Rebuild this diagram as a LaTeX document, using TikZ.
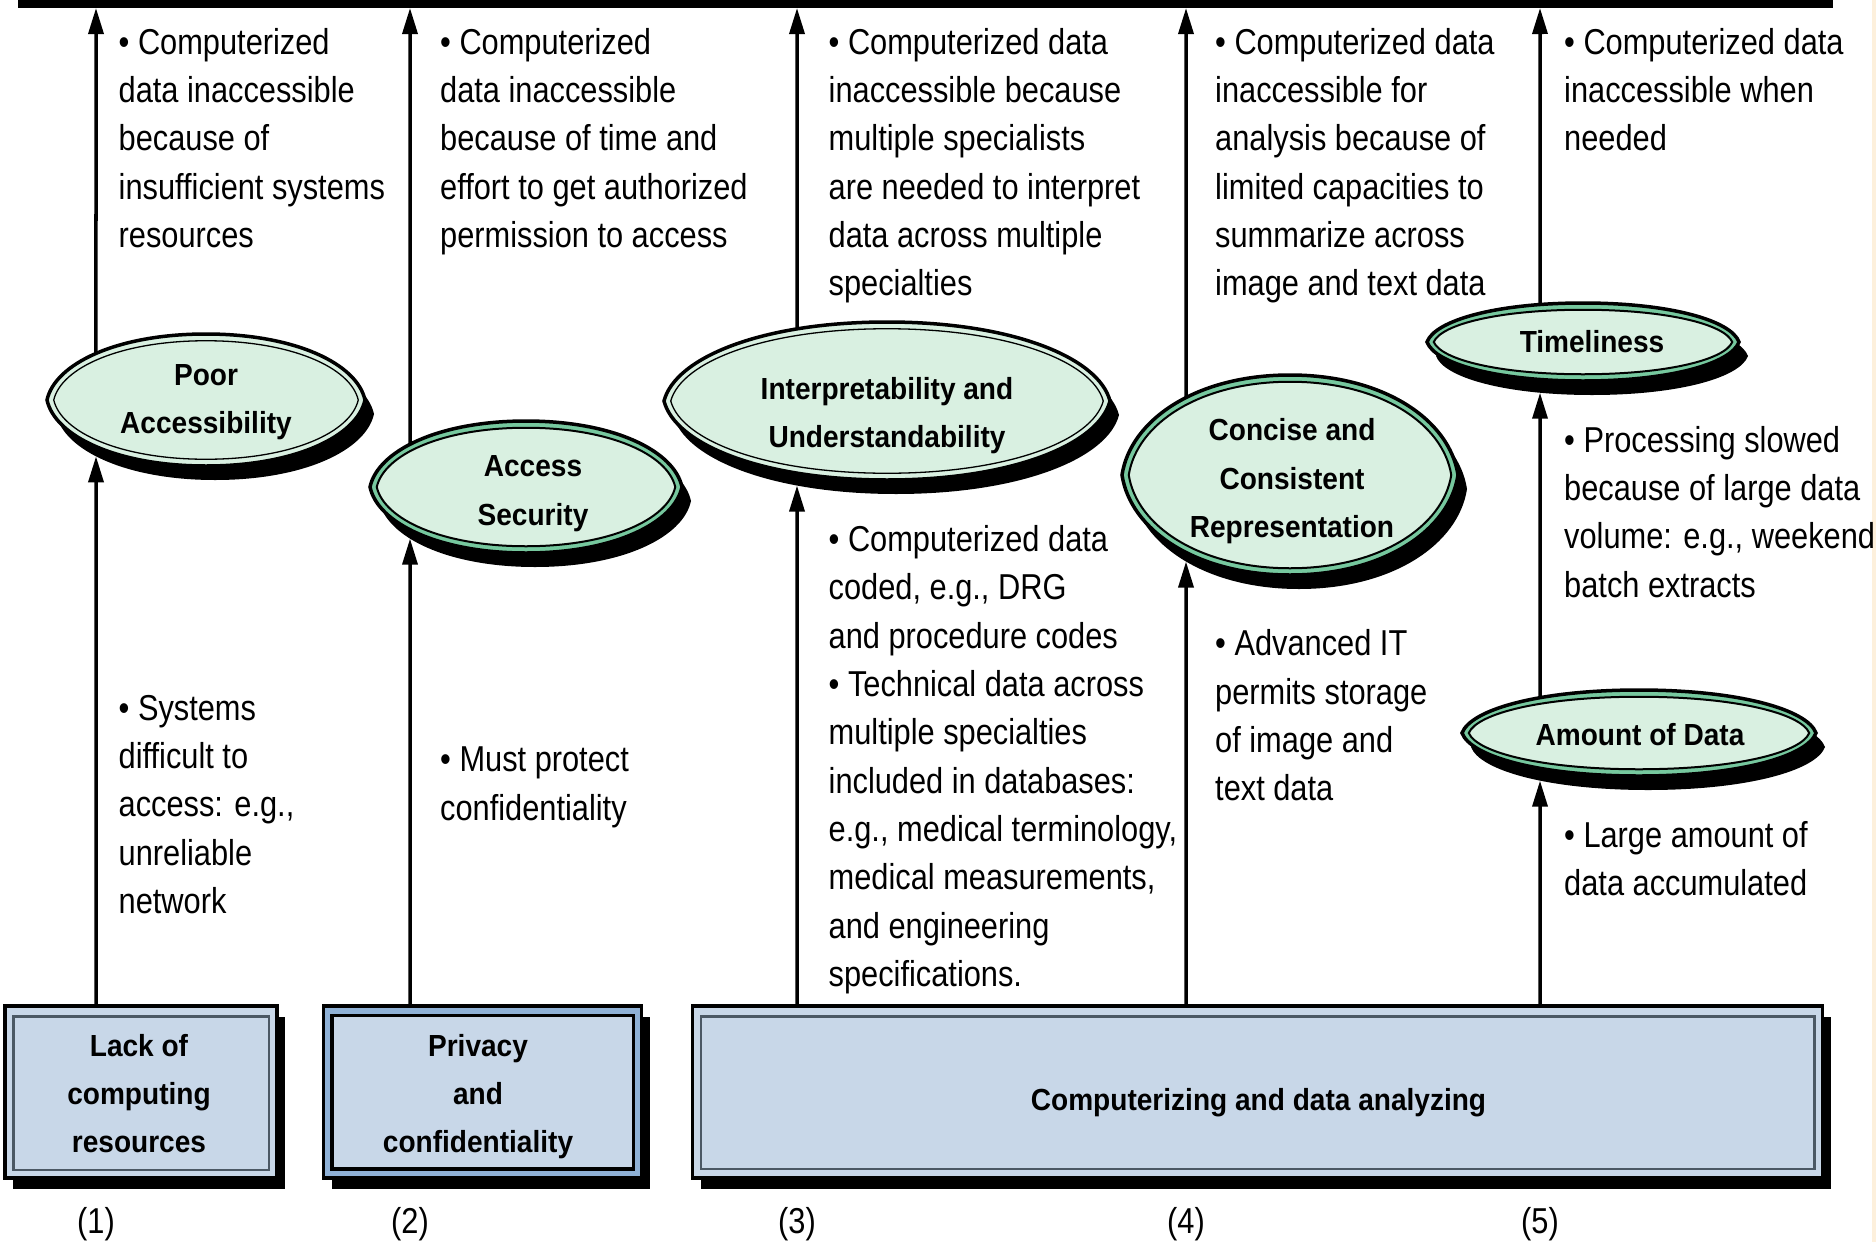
\documentclass[tikz,border=0pt]{standalone}
\usepackage{fontspec}
\setmainfont[FakeStretch=0.855]{Liberation Sans}
\newfontfamily\labelfamily[FakeStretch=0.92]{Liberation Sans}
\usetikzlibrary{arrows.meta,shadows,intersections,calc}

\definecolor{ovalfill}{RGB}{217,240,225}
\definecolor{ovalband}{RGB}{118,200,158}
\definecolor{boxfill}{RGB}{200,215,232}
\definecolor{boxband}{RGB}{143,177,214}
\definecolor{boxline}{RGB}{75,88,100}
\definecolor{edgestrip}{RGB}{253,240,220}

\newcommand\bodyfont{\fontsize{36}{48.3}\selectfont}
\newcommand\labelfont{\labelfamily\bfseries\fontsize{30.5}{48.3}\selectfont}

% slightly pointed oval: centre (#1,#2), radii #3 and #4
\newcommand\eyepath[4]{({#1-#3},{#2}) .. controls +({0.05*#3},{-0.55*#4}) and +({-0.56*#3},0) .. ({#1},{#2-#4})
  .. controls +({0.56*#3},0) and +({-0.05*#3},{-0.55*#4}) .. ({#1+#3},{#2})
  .. controls +({-0.05*#3},{0.55*#4}) and +({0.56*#3},0) .. ({#1},{#2+#4})
  .. controls +({-0.56*#3},0) and +({0.05*#3},{0.55*#4}) .. cycle}

% shadowed double-ringed oval: name, cx, cy, rx, ry, ring colour, inner rule width
\newcommand\ovalshape[7]{%
  \pgfmathsetmacro\ovalirx{#4-6.75}%
  \pgfmathsetmacro\ovaliry{#5-6.75}%
  \fill[black, shift={(9,14)}, name path global=#1-sh] \eyepath{#2}{#3}{#4}{#5};
  \filldraw[fill=#6, draw=black, line width=3.5pt, name path global=#1-out] \eyepath{#2}{#3}{#4}{#5};
  \filldraw[fill=ovalfill, draw=black, line width=#7] \eyepath{#2}{#3}{\ovalirx}{\ovaliry};
}

\tikzset{
  body/.style={anchor=north west, inner sep=0pt, align=left, font=\bodyfont},
  lbl/.style={anchor=north, inner sep=0pt, align=center, font=\labelfont},
  num/.style={anchor=base, inner sep=0pt, font=\bodyfont},
  arr/.style={line width=3.5pt, -{Triangle[length=26pt,width=15pt]}},
  boxshadow/.style={drop shadow={shadow xshift=8pt, shadow yshift=-11pt, opacity=1, fill=black}},
  boxplain/.style={rectangle, fill=boxfill, draw=black, line width=3.5pt, inner sep=0pt, boxshadow},
  boxbanded/.style={rectangle, fill=boxband, draw=black, line width=3.5pt, inner sep=0pt, boxshadow},
  boxrule/.style={draw=boxline, line width=2.5pt},
}

\begin{document}
\begin{tikzpicture}[x=1pt,y=-1pt]
\useasboundingbox (0,0) rectangle (1876,1242);
\fill[white] (0,0) rectangle (1876,1242);
\fill[edgestrip] (1872,0) rectangle (1876,1242);

% top bar
\node[fill=black, inner sep=0pt, outer sep=0pt, minimum width=1815pt, minimum height=8pt, anchor=north west] (bar) at (18,0) {};

% column numbers
\node[num] (n1) at (96,1233) {(1)};
\node[num] (n2) at (410,1233) {(2)};
\node[num] (n3) at (797,1233) {(3)};
\node[num] (n4) at (1186,1233) {(4)};
\node[num] (n5) at (1540,1233) {(5)};

% source boxes
\node[boxplain, minimum width=272pt, minimum height=172pt] (lack) at (141,1092) {};
\draw[boxrule] ($(lack.north west)+(10,12)$) rectangle ($(lack.south east)+(-10,-10)$);
\node[boxbanded, minimum width=318pt, minimum height=172pt] (priv) at (482.5,1092) {};
\filldraw[fill=boxfill, draw=black, line width=3.5pt] ($(priv.north west)+(10,11)$) rectangle ($(priv.south east)+(-10,-11)$);
\node[boxplain, minimum width=1130pt, minimum height=172pt] (big) at (1257.5,1092) {};
\draw[boxrule] ($(big.north west)+(10,12)$) rectangle ($(big.south east)+(-10,-11)$);

% ovals
\ovalshape{pa}{206}{400}{159}{66}{ovalfill}{1.3pt}
\ovalshape{as}{526}{487}{156}{66}{ovalband}{2pt}
\ovalshape{iu}{887}{401}{223}{79}{ovalfill}{1.3pt}
\ovalshape{cc}{1290}{475}{168}{100}{ovalband}{2pt}
\ovalshape{tl}{1583}{342}{156}{39}{ovalband}{2pt}
\ovalshape{ad}{1639}{733}{177}{43}{ovalband}{2pt}

% column guides and where they meet the ovals
\path[name path global=v1] (n1) -- (n1 |- bar.south);
\path[name path global=v2] (n2) -- (n2 |- bar.south);
\path[name path global=v3] (n3) -- (n3 |- bar.south);
\path[name path global=v4] (n4) -- (n4 |- bar.south);
\path[name path global=v5] (n5) -- (n5 |- bar.south);

\path[name intersections={of=v1 and pa-sh, sort by=v1, by={pa-tip}}];
\path[name intersections={of=v1 and pa-out, sort by=v1, by={pa-lo,pa-hi}}];
\path[name intersections={of=v2 and as-sh, sort by=v2, by={as-tip}}];
\path[name intersections={of=v2 and as-out, sort by=v2, by={as-lo,as-hi}}];
\path[name intersections={of=v3 and iu-sh, sort by=v3, by={iu-tip}}];
\path[name intersections={of=v3 and iu-out, sort by=v3, by={iu-lo,iu-hi}}];
\path[name intersections={of=v4 and cc-sh, sort by=v4, by={cc-tip}}];
\path[name intersections={of=v4 and cc-out, sort by=v4, by={cc-lo,cc-hi}}];
\path[name intersections={of=v5 and ad-sh, sort by=v5, by={ad-tip}}];
\path[name intersections={of=v5 and ad-out, sort by=v5, by={ad-lo,ad-hi}}];
\path[name intersections={of=v5 and tl-sh, sort by=v5, by={tl-tip}}];
\path[name intersections={of=v5 and tl-out, sort by=v5, by={tl-lo,tl-hi}}];

% connectors
\draw[arr] (lack.north -| n1) -- (pa-tip);
\draw[arr] (priv.north -| n2) -- (as-tip);
\draw[arr] (big.north -| n3) -- (iu-tip);
\draw[arr] (big.north -| n4) -- (cc-tip);
\draw[arr] (big.north -| n5) -- (ad-tip);
\draw[arr] (ad-hi) -- (tl-tip);
\draw[arr] (pa-hi) -- (n1 |- bar.south);
\draw[arr] (as-hi) -- (n2 |- bar.south);
\draw[arr] (iu-hi) -- (n3 |- bar.south);
\draw[arr] (cc-hi) -- (n4 |- bar.south);
\draw[arr] (tl-hi) -- (n5 |- bar.south);

% oval and box labels
\node[lbl] (pa-t) at (206,351.2) {\strut Poor\\Accessibility};
\node[lbl] (as-t) at (533,442.7) {\strut Access\\Security};
\node[lbl] (iu-t) at (887,365.2) {\strut Interpretability and\\Understandability};
\node[lbl] (cc-t) at (1292,406.7) {\strut Concise and\\Consistent\\Representation};
\node[lbl] (tl-t) at (1592,318.7) {\strut Timeliness};
\node[lbl] (ad-t) at (1640,711.2) {\strut Amount of Data};
\node[lbl] (lack-t) at (139,1022.2) {\strut Lack of\\computing\\resources};
\node[lbl] (priv-t) at (478,1022.2) {\strut Privacy\\and\\confidentiality};
\node[lbl] (big-t) at (1258.5,1076.2) {\strut Computerizing and data analyzing};

% notes above the ovals
\node[body] (u1) at (118.5,20.2) {\strut • Computerized\\data inaccessible\\because of\\insufficient systems\\resources};
\node[body] (u2) at (440,20.2) {\strut • Computerized\\data inaccessible\\because of time and\\effort to get authorized\\permission to access};
\node[body] (u3) at (828.5,20.2) {\strut • Computerized data\\inaccessible because\\multiple specialists\\are needed to interpret\\data across multiple\\specialties};
\node[body] (u4) at (1215,20.2) {\strut • Computerized data\\inaccessible for\\analysis because of\\limited capacities to\\summarize across\\image and text data};
\node[body] (u5) at (1564,20.2) {\strut • Computerized data\\inaccessible when\\needed};

% notes below the ovals
\node[body] (l1) at (118.5,686.2) {\strut • Systems\\difficult to\\access: e.g.,\\unreliable\\network};
\node[body] (l2) at (440,737.7) {\strut • Must protect\\confidentiality};
\node[body] (l3) at (828.5,517.6) {\strut • Computerized data\\coded, e.g., DRG\\and procedure codes\\• Technical data across\\multiple specialties\\included in databases:\\e.g., medical terminology,\\medical measurements,\\and engineering\\specifications.};
\node[body] (l4) at (1215,621.7) {\strut • Advanced IT\\permits storage\\of image and\\text data};
\node[body] (m5) at (1564,418.2) {\strut • Processing slowed\\because of large data\\volume: e.g., weekend\\batch extracts};
\node[body] (l5) at (1564,813.2) {\strut • Large amount of\\data accumulated};
\end{tikzpicture}
\end{document}
